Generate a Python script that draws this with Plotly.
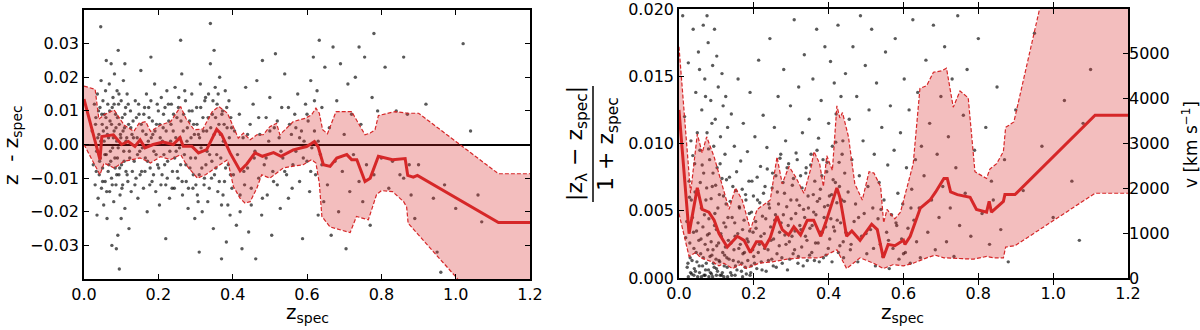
import plotly.graph_objects as go

# ---------------- left panel: z_lambda - z_spec ----------------
left_pts = [
    (0.022, 0.004), (0.025, -0.006), (0.028, 0.012), (0.03, -0.012), (0.032, 0.008), (0.034, -0.002),
    (0.036, 0.015), (0.038, -0.016), (0.04, 0.003), (0.041, -0.009), (0.043, 0.011), (0.044, -0.004),
    (0.046, 0.019), (0.047, -0.013), (0.049, 0.006), (0.05, -0.007), (0.051, 0.013), (0.053, -0.018),
    (0.054, 0.001), (0.055, 0.009), (0.057, -0.011), (0.058, 0.016), (0.06, -0.003), (0.061, 0.005),
    (0.062, -0.022), (0.064, 0.012), (0.065, -0.008), (0.066, 0.002), (0.068, 0.018), (0.069, -0.014),
    (0.07, 0.007), (0.072, -0.005), (0.073, 0.024), (0.074, -0.01), (0.076, 0.011), (0.077, -0.001),
    (0.078, 0.014), (0.08, -0.017), (0.081, 0.004), (0.082, 0.021), (0.084, -0.007), (0.085, 0.009),
    (0.086, -0.012), (0.088, 0.001), (0.089, 0.016), (0.09, -0.004), (0.091, -0.027), (0.093, 0.012),
    (0.094, -0.009), (0.095, 0.006), (0.097, -0.015), (0.098, 0.003), (0.1, 0.013), (0.101, -0.006),
    (0.103, 0.008), (0.104, -0.012), (0.106, 0.019), (0.107, -0.002), (0.109, 0.005), (0.11, -0.019),
    (0.112, 0.011), (0.113, -0.008), (0.115, 0.002), (0.116, 0.015), (0.118, -0.011), (0.12, 0.006),
    (0.121, -0.025), (0.123, -0.004), (0.125, 0.01), (0.127, -0.014), (0.129, 0.003), (0.087, -0.031),
    (0.092, 0.028), (0.06, 0.025), (0.035, -0.021), (0.1, -0.022), (0.11, 0.024), (0.045, 0.035),
    (0.095, -0.037), (0.075, -0.03),
    (0.132, 0.007), (0.135, -0.005), (0.138, 0.013), (0.14, -0.01), (0.143, 0.002), (0.145, -0.016),
    (0.148, 0.009), (0.15, -0.002), (0.153, 0.022), (0.155, -0.008), (0.158, 0.004), (0.16, -0.013),
    (0.163, 0.011), (0.165, -0.004), (0.168, 0.015), (0.17, -0.02), (0.173, 0.001), (0.175, 0.008),
    (0.178, -0.007), (0.18, 0.013), (0.183, -0.011), (0.185, 0.003), (0.188, -0.002), (0.19, 0.018),
    (0.193, -0.014), (0.195, 0.006), (0.198, -0.006), (0.2, 0.01), (0.203, -0.018), (0.205, 0.002),
    (0.208, 0.014), (0.21, -0.009), (0.213, 0.005), (0.215, -0.003), (0.218, 0.011), (0.22, -0.012),
    (0.223, 0.016), (0.225, -0.005), (0.228, 0.007), (0.23, -0.016), (0.233, 0.001), (0.235, 0.012),
    (0.238, -0.008), (0.24, 0.004), (0.243, -0.013), (0.245, 0.017), (0.248, -0.002), (0.25, 0.008),
    (0.253, -0.01), (0.255, 0.014), (0.258, 0.002), (0.26, -0.006), (0.263, 0.021), (0.265, -0.015),
    (0.268, 0.009), (0.27, -0.003), (0.273, 0.013), (0.275, -0.011), (0.278, 0.005), (0.28, -0.019),
    (0.283, 0.01), (0.285, -0.007), (0.288, 0.002), (0.29, 0.015), (0.293, -0.013), (0.295, 0.006),
    (0.298, -0.022), (0.3, -0.004), (0.303, 0.011), (0.305, -0.015), (0.308, 0.003), (0.31, -0.009),
    (0.313, 0.018), (0.315, -0.001), (0.318, -0.02), (0.32, 0.008), (0.323, -0.012), (0.325, 0.013),
    (0.328, -0.006), (0.33, 0.004), (0.333, -0.017), (0.335, 0.015), (0.338, -0.003), (0.34, 0.024),
    (0.343, -0.01), (0.345, 0.009), (0.348, -0.025), (0.35, 0.003), (0.353, 0.017), (0.355, -0.007),
    (0.358, 0.012), (0.36, -0.014), (0.363, 0.006), (0.365, 0.02), (0.368, -0.004), (0.37, -0.018),
    (0.373, 0.01), (0.375, 0.001), (0.378, -0.011), (0.38, 0.016), (0.383, -0.029), (0.385, 0.005),
    (0.388, -0.006), (0.39, 0.013), (0.393, -0.021), (0.395, 0.008), (0.398, -0.013), (0.26, 0.031),
    (0.31, -0.032), (0.35, 0.028), (0.22, -0.028), (0.37, -0.034), (0.18, 0.026), (0.34, 0.036),
    (0.402, -0.009), (0.405, 0.004), (0.41, -0.024), (0.413, -0.003), (0.418, 0.009), (0.42, -0.015),
    (0.425, -0.031), (0.428, 0.002), (0.432, -0.012), (0.435, 0.017), (0.44, -0.007), (0.443, -0.026),
    (0.447, 0.006), (0.45, -0.018), (0.455, 0.012), (0.458, -0.004), (0.462, -0.034), (0.465, 0.019),
    (0.47, -0.01), (0.473, 0.003), (0.478, -0.021), (0.48, 0.025), (0.485, -0.006), (0.49, 0.008),
    (0.493, -0.015), (0.497, 0.001), (0.5, 0.014), (0.505, -0.027), (0.508, -0.008), (0.512, 0.005),
    (0.515, 0.027), (0.52, -0.012), (0.525, 0.002), (0.528, -0.019), (0.532, 0.011), (0.535, -0.004),
    (0.54, 0.021), (0.545, -0.009), (0.55, -0.016), (0.553, 0.006), (0.558, 0.003), (0.562, -0.006),
    (0.567, 0.009), (0.57, -0.002), (0.575, 0.015), (0.58, -0.011), (0.585, 0.004), (0.588, -0.028),
    (0.592, 0.001), (0.596, 0.012), (0.6, -0.005), (0.603, 0.007), (0.607, -0.014), (0.61, 0.019),
    (0.613, -0.001), (0.617, 0.026), (0.62, 0.004), (0.623, -0.009), (0.627, 0.016), (0.63, -0.021),
    (0.633, 0.031), (0.636, -0.003), (0.64, 0.011), (0.645, -0.017), (0.648, 0.023),
    (0.655, -0.012), (0.66, 0.005), (0.665, -0.027), (0.67, 0.029), (0.675, -0.005), (0.68, 0.013),
    (0.685, -0.02), (0.69, 0.024), (0.695, -0.008), (0.7, 0.003), (0.705, -0.031), (0.71, 0.018),
    (0.715, -0.014), (0.72, 0.009), (0.725, -0.003), (0.73, 0.02), (0.74, -0.011), (0.745, 0.006),
    (0.75, -0.017), (0.755, 0.026), (0.76, -0.006), (0.77, -0.024), (0.775, 0.014), (0.78, -0.009),
    (0.79, 0.01), (0.8, -0.004), (0.81, 0.023), (0.82, -0.013), (0.83, -0.005), (0.84, 0.01),
    (0.85, -0.009), (0.86, 0.026), (0.87, 0.009), (0.875, -0.006), (0.88, -0.015), (0.9, -0.006),
    (0.92, 0.012), (0.94, -0.016), (0.95, -0.032), (0.97, -0.012), (1.0, -0.019), (1.04, 0.004),
    (1.06, -0.015), (1.07, -0.023), (1.02, 0.03), (0.78, 0.033), (0.74, 0.029), (0.86, -0.01),
    (0.96, -0.038), (0.89, -0.022),
]

# the dense core of the left cloud
left_core_pts = [
    (0.031, 0.006), (0.033, -0.008), (0.037, 0.002), (0.039, 0.01), (0.042, -0.005), (0.045, 0.001),
    (0.048, 0.009), (0.05, -0.011), (0.052, 0.004), (0.056, -0.003), (0.059, 0.008), (0.061, -0.014),
    (0.063, 0.003), (0.067, -0.006), (0.069, 0.01), (0.071, -0.002), (0.074, 0.006), (0.076, -0.012),
    (0.079, 0.002), (0.081, 0.012), (0.083, -0.004), (0.086, 0.005), (0.088, -0.009), (0.09, 0.008),
    (0.092, -0.001), (0.094, 0.015), (0.096, -0.007), (0.099, 0.002), (0.102, -0.013), (0.105, 0.004),
    (0.108, -0.005), (0.11, 0.009), (0.113, 0.001), (0.116, -0.009), (0.119, 0.012), (0.122, -0.002),
    (0.126, 0.005), (0.13, -0.008), (0.133, 0.002), (0.137, -0.012), (0.141, 0.008), (0.144, -0.003),
    (0.147, 0.012), (0.151, -0.009), (0.154, 0.006), (0.157, -0.001), (0.161, 0.009), (0.164, -0.008),
    (0.167, 0.003), (0.171, -0.005), (0.174, 0.011), (0.177, -0.012), (0.181, 0.002), (0.184, 0.007),
    (0.187, -0.009), (0.191, 0.004), (0.194, -0.003), (0.197, 0.012), (0.201, -0.007), (0.204, 0.006),
    (0.207, -0.012), (0.211, 0.001), (0.214, 0.009), (0.217, -0.006), (0.221, 0.004), (0.224, -0.01),
    (0.227, 0.012), (0.231, -0.002), (0.234, 0.006), (0.237, -0.013), (0.241, 0.009), (0.244, -0.004),
    (0.247, 0.002), (0.251, -0.008), (0.254, 0.011), (0.257, -0.001), (0.261, 0.007), (0.264, -0.011),
    (0.267, 0.004), (0.271, 0.016), (0.274, -0.006), (0.277, 0.001), (0.281, -0.013), (0.284, 0.007),
    (0.287, -0.004), (0.291, 0.01), (0.294, -0.009), (0.297, 0.003), (0.301, -0.012), (0.304, 0.006),
    (0.307, -0.017), (0.311, 0.002), (0.314, 0.011), (0.317, -0.007), (0.321, 0.004), (0.324, -0.01),
    (0.327, 0.014), (0.331, -0.002), (0.334, 0.008), (0.337, -0.013), (0.341, 0.005), (0.344, -0.005),
    (0.347, 0.013), (0.351, -0.009), (0.354, 0.008), (0.357, -0.003), (0.361, 0.015), (0.364, -0.011),
    (0.367, 0.003), (0.371, 0.009), (0.374, -0.015), (0.377, 0.006), (0.381, -0.007), (0.384, 0.011),
    (0.387, -0.018), (0.391, 0.002), (0.394, -0.009), (0.397, 0.005), (0.42, -0.02), (0.43, -0.008),
    (0.44, 0.003), (0.45, -0.013), (0.46, -0.002), (0.47, 0.008), (0.48, -0.016), (0.49, -0.004),
    (0.5, 0.004), (0.51, -0.011), (0.52, 0.007), (0.53, -0.002), (0.54, -0.008), (0.55, 0.011),
    (0.56, -0.013), (0.57, 0.005), (0.58, 0.002), (0.59, -0.004), (0.6, 0.009), (0.61, -0.008),
    (0.62, 0.013), (0.63, 0.001), (0.64, -0.006),
]

left_med_z = [0.0, 0.043, 0.048, 0.079, 0.101, 0.119, 0.137, 0.151, 0.164, 0.186, 0.213, 0.24, 0.258,
              0.267, 0.29, 0.308, 0.33, 0.357, 0.37, 0.393, 0.42, 0.438, 0.46, 0.48, 0.51, 0.53, 0.563,
              0.599, 0.612, 0.62, 0.63, 0.644, 0.662, 0.68, 0.707, 0.72, 0.734, 0.756, 0.77, 0.792,
              0.83, 0.864, 0.871, 0.886, 0.897, 1.115, 1.2]
left_med = [0.0135, -0.0045, 0.0024, 0.0029, 0.0, 0.0009, -0.0006, 0.0014, -0.001, 0.0, 0.0007, 0.0,
            0.002, -0.0005, -0.0005, -0.0025, -0.0015, 0.0045, 0.003, -0.0025, -0.0078, -0.0058,
            -0.0025, -0.0035, -0.0024, -0.0035, -0.0016, -0.0006, 0.0003, 0.0009, -0.0007, -0.006,
            -0.0065, -0.004, -0.003, -0.0045, -0.0045, -0.011, -0.010, -0.0035, -0.0045, -0.0042,
            -0.0092, -0.0097, -0.0092, -0.0232, -0.0232]

left_hi_z = [0.0, 0.03, 0.04, 0.053, 0.081, 0.108, 0.134, 0.148, 0.166, 0.179, 0.206, 0.233, 0.26,
             0.274, 0.296, 0.32, 0.345, 0.363, 0.386, 0.402, 0.415, 0.429, 0.447, 0.465, 0.482, 0.5,
             0.518, 0.527, 0.54, 0.563, 0.595, 0.612, 0.624, 0.633, 0.642, 0.655, 0.678, 0.72, 0.756,
             0.77, 0.783, 0.792, 0.837, 0.87, 0.9, 1.012, 1.115, 1.2]
left_hi = [0.0174, 0.0164, 0.0075, 0.0088, 0.0103, 0.0058, 0.0039, 0.0063, 0.0068, 0.0039, 0.0058,
           0.0068, 0.0113, 0.0078, 0.0044, 0.0046, 0.0098, 0.0113, 0.0093, 0.0053, 0.0019, 0.0034,
           0.0014, 0.0029, 0.0029, 0.0053, 0.0063, 0.0029, 0.0044, 0.0068, 0.0078, 0.0088, 0.0108,
           0.0093, 0.0044, 0.0032, 0.0098, 0.0098, 0.0029, 0.0034, 0.0044, 0.0086, 0.0098, 0.0093,
           0.0093, 0.0, -0.0087, -0.0087]

left_lo_z = [0.0, 0.043, 0.054, 0.081, 0.108, 0.134, 0.151, 0.179, 0.206, 0.233, 0.26, 0.278, 0.305,
             0.327, 0.386, 0.402, 0.42, 0.433, 0.447, 0.465, 0.478, 0.5, 0.536, 0.56, 0.59, 0.612,
             0.624, 0.633, 0.64, 0.662, 0.689, 0.716, 0.733, 0.765, 0.787, 0.8, 0.83, 0.86, 0.868,
             0.872, 1.003, 1.115, 1.2]
left_lo = [0.0, -0.009, -0.0055, -0.007, -0.005, -0.0045, -0.004, -0.0055, -0.0036, -0.0045, -0.003,
           -0.0065, -0.01, -0.009, -0.0045, -0.0125, -0.016, -0.0174, -0.017, -0.013, -0.009, -0.01,
           -0.007, -0.0065, -0.006, -0.0045, -0.0055, -0.0115, -0.0214, -0.0245, -0.0253, -0.0262,
           -0.0214, -0.0224, -0.0149, -0.0137, -0.014, -0.017, -0.0186, -0.0234, -0.0397, -0.057, -0.057]

# ---------------- right panel: |z_lambda - z_spec| / (1 + z_spec) ----------------
right_pts = [
    (0.01, 0.0195), (0.015, 0.012), (0.018, 0.003), (0.022, 0.0008), (0.025, 0.016), (0.028, 0.006),
    (0.03, 0.0015), (0.032, 0.0102), (0.034, 0.0003), (0.036, 0.0045), (0.038, 0.0185), (0.04, 0.0022),
    (0.042, 0.0085), (0.044, 0.0005), (0.045, 0.0138), (0.047, 0.0035), (0.048, 0.0012), (0.05, 0.0065),
    (0.052, 0.0168), (0.053, 0.0028), (0.055, 0.0004), (0.056, 0.0095), (0.058, 0.0018), (0.06, 0.0052),
    (0.061, 0.0125), (0.063, 0.0009), (0.064, 0.0038), (0.066, 0.0078), (0.067, 0.0002), (0.069, 0.0148),
    (0.07, 0.0025), (0.072, 0.0058), (0.073, 0.0011), (0.075, 0.0108), (0.076, 0.0032), (0.078, 0.0175),
    (0.079, 0.0006), (0.08, 0.0044), (0.082, 0.0088), (0.083, 0.0016), (0.085, 0.0132), (0.086, 0.0027),
    (0.087, 0.0003), (0.089, 0.0068), (0.09, 0.0158), (0.091, 0.0021), (0.093, 0.0098), (0.094, 0.0008),
    (0.096, 0.0048), (0.097, 0.0118), (0.099, 0.0014), (0.1, 0.0036), (0.102, 0.0082), (0.103, 0.0005),
    (0.105, 0.0142), (0.106, 0.0026), (0.108, 0.0062), (0.109, 0.0012), (0.111, 0.0105), (0.112, 0.0033),
    (0.114, 0.0002), (0.115, 0.0074), (0.117, 0.0019), (0.118, 0.0128), (0.12, 0.0041), (0.121, 0.0009),
    (0.123, 0.0092), (0.124, 0.0023), (0.126, 0.0055), (0.128, 0.0015), (0.13, 0.0112), (0.075, 0.0195),
    (0.065, 0.0188), (0.095, 0.0185), (0.055, 0.0155), (0.088, 0.0115), (0.071, 0.0135), (0.101, 0.0165),
    (0.115, 0.0152), (0.125, 0.0135), (0.06, 0.0001), (0.08, 0.0001), (0.1, 0.0002), (0.12, 0.0001),
    (0.132, 0.0028), (0.135, 0.0075), (0.138, 0.0004), (0.14, 0.0122), (0.142, 0.0045), (0.145, 0.0013),
    (0.148, 0.0098), (0.15, 0.0031), (0.152, 0.0065), (0.155, 0.0006), (0.158, 0.0148), (0.16, 0.0022),
    (0.162, 0.0052), (0.165, 0.0087), (0.168, 0.0011), (0.17, 0.0036), (0.172, 0.0115), (0.175, 0.0019),
    (0.178, 0.0062), (0.18, 0.0003), (0.183, 0.0094), (0.185, 0.0027), (0.188, 0.0048), (0.19, 0.0138),
    (0.193, 0.0009), (0.195, 0.0072), (0.198, 0.0034), (0.2, 0.0016), (0.203, 0.0105), (0.205, 0.0042),
    (0.208, 0.0007), (0.21, 0.0058), (0.213, 0.0162), (0.215, 0.0025), (0.218, 0.0083), (0.22, 0.0012),
    (0.223, 0.0046), (0.225, 0.0121), (0.228, 0.0033), (0.23, 0.0068), (0.233, 0.0005), (0.235, 0.0097),
    (0.238, 0.0021), (0.24, 0.0055), (0.243, 0.0178), (0.245, 0.0038), (0.248, 0.0014), (0.25, 0.0078),
    (0.253, 0.0029), (0.255, 0.0112), (0.258, 0.0047), (0.26, 0.0008), (0.263, 0.0064), (0.265, 0.0135),
    (0.268, 0.0024), (0.27, 0.0089), (0.273, 0.0041), (0.275, 0.0015), (0.278, 0.0071), (0.28, 0.0155),
    (0.283, 0.0032), (0.285, 0.0102), (0.288, 0.0053), (0.29, 0.0006), (0.293, 0.0085), (0.295, 0.0027),
    (0.298, 0.0128), (0.3, 0.0044), (0.303, 0.0069), (0.305, 0.0018), (0.308, 0.0192), (0.31, 0.0035),
    (0.313, 0.0093), (0.315, 0.0058), (0.318, 0.0011), (0.32, 0.0142), (0.323, 0.0039), (0.325, 0.0076),
    (0.328, 0.0023), (0.33, 0.0108), (0.333, 0.0051), (0.335, 0.0166), (0.338, 0.0031), (0.34, 0.0082),
    (0.343, 0.0013), (0.345, 0.0061), (0.348, 0.0118), (0.35, 0.0037), (0.353, 0.0092), (0.355, 0.0019),
    (0.358, 0.0148), (0.36, 0.0049), (0.363, 0.0072), (0.365, 0.0026), (0.368, 0.0185), (0.37, 0.0057),
    (0.373, 0.0104), (0.375, 0.0012), (0.378, 0.0066), (0.38, 0.0132), (0.383, 0.0034), (0.385, 0.0088),
    (0.388, 0.0045), (0.39, 0.0172), (0.393, 0.0017), (0.395, 0.0079), (0.398, 0.0054), (0.4, 0.0115),
    (0.403, 0.0029), (0.405, 0.0161), (0.408, 0.0062), (0.41, 0.0098), (0.413, 0.0038), (0.415, 0.0145),
    (0.418, 0.0071), (0.42, 0.0122), (0.423, 0.0043), (0.425, 0.0188), (0.428, 0.0086), (0.43, 0.0024),
    (0.433, 0.0135), (0.435, 0.0058), (0.438, 0.0102), (0.44, 0.0015), (0.443, 0.0078), (0.445, 0.0152),
    (0.448, 0.0033),
    (0.452, 0.0064), (0.455, 0.0118), (0.458, 0.0021), (0.462, 0.0088), (0.465, 0.0172), (0.468, 0.0042),
    (0.472, 0.0055), (0.475, 0.0135), (0.478, 0.0012), (0.482, 0.0076), (0.485, 0.0195), (0.488, 0.0031),
    (0.492, 0.0102), (0.495, 0.0048), (0.498, 0.0158), (0.502, 0.0018), (0.505, 0.0068), (0.508, 0.0125),
    (0.512, 0.0036), (0.515, 0.0185), (0.518, 0.0052), (0.522, 0.0092), (0.525, 0.0009), (0.528, 0.0145),
    (0.532, 0.0044), (0.535, 0.0071), (0.538, 0.0025), (0.542, 0.0112), (0.545, 0.0016), (0.548, 0.0058),
    (0.552, 0.0168), (0.555, 0.0034), (0.558, 0.0084), (0.562, 0.0007), (0.565, 0.0128), (0.568, 0.0047),
    (0.572, 0.0022), (0.575, 0.0095), (0.578, 0.0178), (0.582, 0.0039), (0.585, 0.0063), (0.588, 0.0014),
    (0.592, 0.0108), (0.595, 0.0029), (0.598, 0.0055), (0.602, 0.0148), (0.605, 0.0019), (0.608, 0.0082),
    (0.612, 0.0037), (0.615, 0.0125), (0.618, 0.0011), (0.622, 0.0066), (0.625, 0.0192), (0.628, 0.0043),
    (0.632, 0.0088), (0.635, 0.0027), (0.638, 0.0138), (0.642, 0.0052), (0.645, 0.0015), (0.648, 0.0098),
    (0.655, 0.0076), (0.66, 0.0162), (0.665, 0.0034), (0.67, 0.0115), (0.675, 0.0058), (0.68, 0.0188),
    (0.685, 0.0021), (0.69, 0.0092), (0.695, 0.0045), (0.7, 0.0135), (0.705, 0.0068), (0.71, 0.0172),
    (0.715, 0.0027), (0.72, 0.0105), (0.725, 0.0052), (0.73, 0.0148), (0.735, 0.0016), (0.74, 0.0082),
    (0.745, 0.0195), (0.75, 0.0039), (0.76, 0.0121), (0.765, 0.0063), (0.77, 0.0155), (0.78, 0.0031),
    (0.79, 0.0095), (0.8, 0.0178), (0.81, 0.0048), (0.82, 0.0112), (0.83, 0.0025), (0.835, 0.0072),
    (0.84, 0.0058), (0.85, 0.0142), (0.86, 0.0036), (0.87, 0.0088), (0.88, 0.0012), (0.9, 0.0125),
    (0.92, 0.0065), (0.95, 0.0182), (0.97, 0.0098), (1.0, 0.0045), (1.03, 0.0132), (1.05, 0.0072),
    (1.08, 0.0115), (1.1, 0.0155), (1.07, 0.0028),
]

# the dense core of the right cloud
right_core_pts = [
    (0.021, 0.0042), (0.024, 0.0011), (0.027, 0.0072), (0.029, 0.0026), (0.031, 0.0004), (0.033, 0.0058),
    (0.035, 0.0013), (0.037, 0.0091), (0.039, 0.0034), (0.041, 0.0007), (0.043, 0.0064), (0.046, 0.0019),
    (0.049, 0.0108), (0.051, 0.0041), (0.054, 0.0009), (0.057, 0.0071), (0.059, 0.0029), (0.062, 0.0084),
    (0.065, 0.0015), (0.068, 0.0047), (0.071, 0.0006), (0.074, 0.0067), (0.077, 0.0021), (0.079, 0.0096),
    (0.081, 0.0033), (0.084, 0.0004), (0.086, 0.0059), (0.088, 0.0017), (0.091, 0.0078), (0.092, 0.0011),
    (0.095, 0.0039), (0.098, 0.0069), (0.1, 0.0007), (0.101, 0.0024), (0.104, 0.0052), (0.107, 0.0013),
    (0.11, 0.0085), (0.113, 0.0031), (0.116, 0.0004), (0.119, 0.0061), (0.122, 0.0017), (0.125, 0.0038),
    (0.127, 0.0073), (0.129, 0.0008), (0.131, 0.0045), (0.134, 0.0014), (0.137, 0.0057), (0.139, 0.0026),
    (0.141, 0.0002), (0.144, 0.0068), (0.147, 0.0021), (0.149, 0.0041), (0.151, 0.0009), (0.154, 0.0079),
    (0.157, 0.0033), (0.159, 0.0012), (0.161, 0.0053), (0.164, 0.0025), (0.167, 0.0005), (0.169, 0.0066),
    (0.171, 0.0018), (0.174, 0.0043), (0.177, 0.0008), (0.179, 0.0058), (0.182, 0.0029), (0.184, 0.0013),
    (0.187, 0.0072), (0.189, 0.0035), (0.192, 0.0004), (0.194, 0.0049), (0.197, 0.0021), (0.199, 0.0061),
    (0.202, 0.0011), (0.206, 0.0037), (0.209, 0.0075), (0.212, 0.0019), (0.216, 0.0056), (0.219, 0.0031),
    (0.222, 0.0006), (0.226, 0.0063), (0.229, 0.0022), (0.232, 0.0044), (0.236, 0.0081), (0.239, 0.0013),
    (0.242, 0.0052), (0.246, 0.0028), (0.249, 0.0067), (0.252, 0.0009), (0.256, 0.0043), (0.259, 0.0076),
    (0.262, 0.0018), (0.266, 0.0055), (0.269, 0.0034), (0.272, 0.0092), (0.276, 0.0011), (0.279, 0.0047),
    (0.282, 0.0063), (0.286, 0.0025), (0.289, 0.0082), (0.292, 0.0039), (0.296, 0.0014), (0.299, 0.0058),
    (0.302, 0.0031), (0.306, 0.0074), (0.309, 0.0021), (0.312, 0.0048), (0.316, 0.0088), (0.319, 0.0016),
    (0.322, 0.0054), (0.326, 0.0036), (0.329, 0.0067), (0.332, 0.0009), (0.336, 0.0045), (0.339, 0.0078),
    (0.342, 0.0028), (0.346, 0.0052), (0.349, 0.0017), (0.352, 0.0084), (0.356, 0.0039), (0.359, 0.0062),
    (0.362, 0.0013), (0.366, 0.0047), (0.369, 0.0095), (0.372, 0.0026), (0.376, 0.0059), (0.379, 0.0034),
    (0.382, 0.0076), (0.386, 0.0015), (0.389, 0.0053), (0.392, 0.0038), (0.396, 0.0086), (0.399, 0.0022),
    (0.402, 0.0061), (0.406, 0.0044), (0.409, 0.0012), (0.412, 0.0073), (0.416, 0.0035), (0.419, 0.0101),
    (0.422, 0.0056), (0.426, 0.0019), (0.429, 0.0068), (0.432, 0.0041), (0.436, 0.0092), (0.439, 0.0027),
    (0.442, 0.0057), (0.446, 0.0034), (0.46, 0.0025), (0.48, 0.0045), (0.5, 0.0033), (0.52, 0.0022),
    (0.54, 0.0051), (0.56, 0.0028), (0.58, 0.0041), (0.6, 0.0018), (0.62, 0.0052), (0.025, 0.0001),
    (0.04, 0.0002), (0.05, 0.0001), (0.07, 0.0002), (0.09, 0.0001), (0.11, 0.0002), (0.13, 0.0001),
    (0.15, 0.0002), (0.17, 0.0001), (0.19, 0.0002),
]

right_med_z = [0.0, 0.027, 0.049, 0.062, 0.08, 0.094, 0.107, 0.129, 0.156, 0.174, 0.191, 0.207, 0.22,
               0.23, 0.244, 0.262, 0.276, 0.293, 0.307, 0.325, 0.343, 0.36, 0.379, 0.392, 0.422, 0.43,
               0.448, 0.462, 0.484, 0.502, 0.515, 0.53, 0.546, 0.559, 0.577, 0.6, 0.604, 0.618, 0.645,
               0.671, 0.686, 0.708, 0.717, 0.726, 0.744, 0.778, 0.795, 0.822, 0.829, 0.835, 0.867,
               0.871, 0.898, 1.112, 1.2]
right_med = [0.0125, 0.0033, 0.0067, 0.0051, 0.0049, 0.0043, 0.0033, 0.0023, 0.0031, 0.0028, 0.0019,
             0.0027, 0.0027, 0.0023, 0.003, 0.0046, 0.0036, 0.0032, 0.0038, 0.0032, 0.0043, 0.0043,
             0.0031, 0.0041, 0.0067, 0.006, 0.0031, 0.0035, 0.0028, 0.0035, 0.004, 0.0036, 0.0015,
             0.0025, 0.0024, 0.0028, 0.0025, 0.0031, 0.0052, 0.0058, 0.0064, 0.0074, 0.0074, 0.0064,
             0.0062, 0.006, 0.0051, 0.0049, 0.0057, 0.0049, 0.0057, 0.0062, 0.0062, 0.0121, 0.0121]

right_hi_z = [0.0, 0.031, 0.049, 0.062, 0.074, 0.094, 0.134, 0.151, 0.169, 0.191, 0.209, 0.244, 0.262,
              0.276, 0.294, 0.312, 0.334, 0.352, 0.361, 0.376, 0.386, 0.395, 0.41, 0.422, 0.43, 0.437,
              0.453, 0.47, 0.49, 0.508, 0.521, 0.539, 0.547, 0.556, 0.577, 0.592, 0.61, 0.626, 0.644,
              0.662, 0.68, 0.702, 0.715, 0.733, 0.751, 0.773, 0.791, 0.822, 0.831, 0.849, 0.867, 0.873,
              0.895, 0.965, 1.115, 1.2]
right_hi = [0.0172, 0.0063, 0.0107, 0.0093, 0.0105, 0.009, 0.0051, 0.0067, 0.0058, 0.0036, 0.0051,
            0.0058, 0.009, 0.007, 0.0083, 0.0075, 0.0063, 0.0081, 0.0094, 0.0085, 0.0068, 0.0091,
            0.008, 0.0128, 0.0119, 0.0123, 0.0105, 0.007, 0.0058, 0.0079, 0.0078, 0.0068, 0.0041,
            0.0051, 0.0044, 0.0049, 0.0068, 0.0085, 0.0141, 0.0143, 0.0153, 0.0154, 0.0156, 0.0127,
            0.0139, 0.0134, 0.0079, 0.0074, 0.0081, 0.0085, 0.0094, 0.0112, 0.0116, 0.02, 0.0385, 0.0385]

right_lo_z = [0.0, 0.027, 0.045, 0.058, 0.089, 0.107, 0.12, 0.143, 0.165, 0.18, 0.214, 0.249, 0.289,
              0.329, 0.374, 0.386, 0.422, 0.448, 0.484, 0.52, 0.546, 0.573, 0.6, 0.626, 0.662, 0.684,
              0.708, 0.76, 0.787, 0.822, 0.84, 0.867, 0.873, 0.898, 1.112, 1.2]
right_lo = [0.0048, 0.0016, 0.0019, 0.0015, 0.0012, 0.0009, 0.0011, 0.0007, 0.001, 0.0007, 0.0011,
            0.0012, 0.0014, 0.0015, 0.0015, 0.0016, 0.0021, 0.0007, 0.0015, 0.0011, 0.0007, 0.001,
            0.0009, 0.0011, 0.0015, 0.0017, 0.0015, 0.0014, 0.0014, 0.0016, 0.0015, 0.0015, 0.0023,
            0.0024, 0.0063, 0.0063]

x_ticks = [0.0, 0.2, 0.4, 0.6, 0.8, 1.0, 1.2]
left_yticks = [-0.03, -0.02, -0.01, 0.0, 0.01, 0.02, 0.03]
right_yticks = [0.0, 0.005, 0.01, 0.015, 0.02]
vel_ticks = [0, 1000, 2000, 3000, 4000, 5000]

RED = "#d62728"
BAND = "rgba(214,39,40,0.3)"
FONT = "DejaVu Sans"

fig = go.Figure()


def add_panel(pts, med_z, med, hi_z, hi, lo_z, lo, xa, ya):
    fig.add_trace(go.Scatter(
        x=[p[0] for p in pts], y=[p[1] for p in pts], mode="markers",
        marker=dict(color="rgba(0,0,0,0.65)", size=3.4), xaxis=xa, yaxis=ya, showlegend=False,
    ))
    fig.add_trace(go.Scatter(
        x=hi_z + lo_z[::-1], y=hi + lo[::-1], mode="none", fill="toself", fillcolor=BAND,
        xaxis=xa, yaxis=ya, showlegend=False,
    ))
    for zz, vv in ((hi_z, hi), (lo_z, lo)):
        fig.add_trace(go.Scatter(
            x=zz, y=vv, mode="lines", line=dict(color=RED, width=1.2, dash="4px,2px"),
            xaxis=xa, yaxis=ya, showlegend=False,
        ))
    fig.add_trace(go.Scatter(
        x=med_z, y=med, mode="lines", line=dict(color=RED, width=3),
        xaxis=xa, yaxis=ya, showlegend=False,
    ))


add_panel(left_pts + left_core_pts, left_med_z, left_med, left_hi_z, left_hi,
          left_lo_z, left_lo, "x", "y")
add_panel(right_pts + right_core_pts, right_med_z, right_med, right_hi_z, right_hi,
          right_lo_z, right_lo, "x2", "y2")

tick_font = dict(family=FONT, size=16, color="black")
axis_style = dict(
    showline=True, linecolor="black", linewidth=1.5, mirror="allticks",
    ticks="inside", ticklen=5, tickwidth=1.2, tickcolor="black",
    showgrid=False, tickfont=tick_font, automargin=False, ticklabeloverflow="allow",
)

fig.update_layout(
    width=1200, height=330,
    margin=dict(l=0, r=0, t=0, b=0),
    plot_bgcolor="white", paper_bgcolor="white",
    font=dict(family=FONT, color="black"),
    xaxis=dict(domain=[0.07, 0.4417], range=[0, 1.2], tickvals=x_ticks, tickformat=".1f",
               anchor="y", zeroline=False, **axis_style),
    yaxis=dict(domain=[0.1545, 0.9697], range=[-0.04, 0.04], tickvals=left_yticks, tickformat=".2f",
               anchor="x", zeroline=True, zerolinecolor="black", zerolinewidth=2, **axis_style),
    xaxis2=dict(domain=[0.5658, 0.94], range=[0, 1.2], tickvals=x_ticks, tickformat=".1f",
                anchor="y2", zeroline=False, **axis_style),
    yaxis2=dict(domain=[0.1576, 0.9727], range=[0, 0.020002], tickvals=right_yticks, tickformat=".3f",
                anchor="x2", zeroline=False, showline=True, linecolor="black", linewidth=1.5,
                mirror=True, ticks="inside", ticklen=5, tickwidth=1.2, tickcolor="black",
                showgrid=False, tickfont=tick_font, automargin=False, ticklabeloverflow="allow"),
    yaxis3=dict(overlaying="y2", side="right", anchor="x2", range=[0, 6000.6], tickvals=vel_ticks,
                ticks="inside", ticklen=5, tickwidth=1.2, tickcolor="black", showgrid=False,
                zeroline=False, showline=False, tickfont=tick_font, automargin=False,
                ticklabeloverflow="allow"),
)

# an empty trace keeps the velocity axis rendered
fig.add_trace(go.Scatter(x=[], y=[], xaxis="x2", yaxis="y3", showlegend=False))

label_font = dict(family=FONT, size=20, color="black")
frac_font = dict(family=FONT, size=22, color="black")
annotations = [
    dict(text="z<sub>spec</sub>", x=307 / 1200, y=1 - 313 / 330, xanchor="center", yanchor="middle"),
    dict(text="z<sub>spec</sub>", x=903 / 1200, y=1 - 313 / 330, xanchor="center", yanchor="middle"),
    dict(text="z  - z<sub>spec</sub>", x=12 / 1200, y=1 - 145 / 330, textangle=-90,
         xanchor="center", yanchor="middle"),
    dict(text="|z<sub>λ</sub> − z<sub>spec</sub>|", x=577 / 1200, y=1 - 144 / 330, textangle=-90,
         xanchor="center", yanchor="middle", font=frac_font),
    dict(text="1 + z<sub>spec</sub>", x=608 / 1200, y=1 - 144 / 330, textangle=-90,
         xanchor="center", yanchor="middle", font=frac_font),
    dict(text="v [km s<sup>−1</sup>]", x=1190 / 1200, y=1 - 145 / 330, textangle=-90,
         xanchor="center", yanchor="middle", font=dict(family=FONT, size=17, color="black")),
]
for a in annotations:
    a.setdefault("font", label_font)
    fig.add_annotation(xref="paper", yref="paper", showarrow=False, **a)

# fraction bar of the right y label
fig.add_shape(type="line", xref="paper", yref="paper", x0=593 / 1200, x1=593 / 1200,
              y0=1 - 202 / 330, y1=1 - 86 / 330, line=dict(color="black", width=1.5))

fig.write_html("out.html", config={"displayModeBar": False},
               post_script="document.body.style.margin = '0';")
